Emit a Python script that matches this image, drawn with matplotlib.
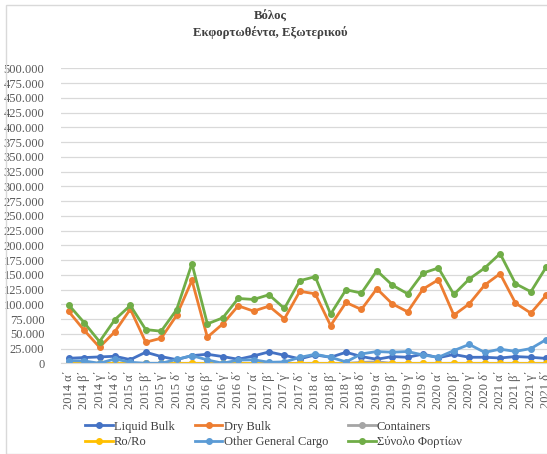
import matplotlib
matplotlib.use('Agg')
import matplotlib.pyplot as plt
from matplotlib.ticker import FuncFormatter, MultipleLocator
from matplotlib.patches import Rectangle

plt.rcParams['font.family'] = ['Liberation Serif', 'DejaVu Serif']

years = ['2014', '2015', '2016', '2017', '2018', '2019', '2020', '2021']
quarters = ['α΄', 'β΄', 'γ΄', 'δ΄']
labels = [y + ' ' + q for y in years for q in quarters]

liquid_bulk = [8500, 9700, 10800, 11900, 6200, 18800, 11400, 6200,
               13000, 15300, 11400, 6800, 12500, 19300, 13600, 7500,
               14200, 10200, 18700, 11400, 6800, 11400, 10200, 15600,
               9400, 15000, 10200, 10200, 9000, 11400, 10200, 8200]
dry_bulk = [87800, 56100, 27200, 53700, 91800, 35700, 42500, 81000,
            140500, 44200, 66800, 97400, 88400, 96900, 75300, 122000,
            117800, 64000, 103100, 91200, 126400, 100800, 87200, 125800,
            141700, 81600, 100800, 132600, 151900, 102000, 85000, 115600]
containers = [0] * 19 + [1500, 2500] + [0] * 11
ro_ro = [0] * 32
other_gc = [4500, 4000, 0, 7500, 1700, 0, 0, 6500,
            13000, 5700, 0, 5500, 6000, 1700, 2300, 10000,
            15300, 10200, 2300, 15900, 19900, 18800, 20000, 14000,
            10200, 21600, 32000, 18500, 23900, 20200, 25000, 40300]
total = [99000, 69000, 36700, 74100, 98000, 57100, 54400, 90600,
         168900, 66800, 77000, 109900, 108200, 116200, 92900, 140000,
         146800, 83300, 124700, 119000, 157000, 132600, 117800, 153000,
         161500, 116700, 142900, 161500, 185900, 134900, 121300, 163300]

series = [
    ('Liquid Bulk', liquid_bulk, '#4472C4'),
    ('Dry Bulk', dry_bulk, '#ED7D31'),
    ('Containers', containers, '#A5A5A5'),
    ('Ro/Ro', ro_ro, '#FFC000'),
    ('Other General Cargo', other_gc, '#5B9BD5'),
    ('Σύνολο Φορτίων', total, '#70AD47'),
]

fig = plt.figure(figsize=(5.47, 4.54), dpi=100)
ax = fig.add_axes([61 / 547, 0.1998, 493 / 547, 0.6498])

x = list(range(len(labels)))
handles = {}
for name, vals, col in series:
    h, = ax.plot(x, vals, color=col, lw=2, marker='o', markersize=4, label=name)
    handles[name] = h

ax.set_xlim(-0.5, len(labels) - 0.5)
ax.set_ylim(0, 500000)
ax.yaxis.set_major_locator(MultipleLocator(25000))
ax.yaxis.set_major_formatter(FuncFormatter(lambda v, p: f'{int(v):,}'.replace(',', '.')))
ax.set_xticks(x)
ax.set_xticklabels(labels, rotation=90)
ax.tick_params(axis='both', length=0, labelsize=9, colors='#595959')
ax.tick_params(axis='y', pad=12)
ax.tick_params(axis='x', pad=5)
ax.grid(axis='y', color='#D9D9D9', lw=0.9)
ax.set_axisbelow(True)
for s in ['top', 'right', 'left']:
    ax.spines[s].set_visible(False)
ax.spines['bottom'].set_color('#D9D9D9')

fig.text(0.495, 0.963, 'Βόλος', ha='center', va='center', fontsize=9.2,
         fontweight='bold', color='#404040')
fig.text(0.495, 0.929, 'Εκφορτωθέντα, Εξωτερικού', ha='center', va='center',
         fontsize=9.2, fontweight='bold', color='#404040')

# legend filled column-wise, so reorder for row-wise look
order = ['Liquid Bulk', 'Ro/Ro', 'Dry Bulk', 'Other General Cargo',
         'Containers', 'Σύνολο Φορτίων']
leg = fig.legend([handles[n] for n in order], order, ncol=3, loc='center',
                 bbox_to_anchor=(0.5, 0.043), frameon=False, fontsize=9,
                 handlelength=2.2, handletextpad=0.1, columnspacing=1.6,
                 labelspacing=0.3)
for t in leg.get_texts():
    t.set_color('#404040')

fig.patches.append(Rectangle((6 / 547, 0), 1, 1 - 5 / 454, transform=fig.transFigure,
                             fill=False, edgecolor='#D9D9D9', lw=1))

fig.savefig('out.png', dpi=100)
